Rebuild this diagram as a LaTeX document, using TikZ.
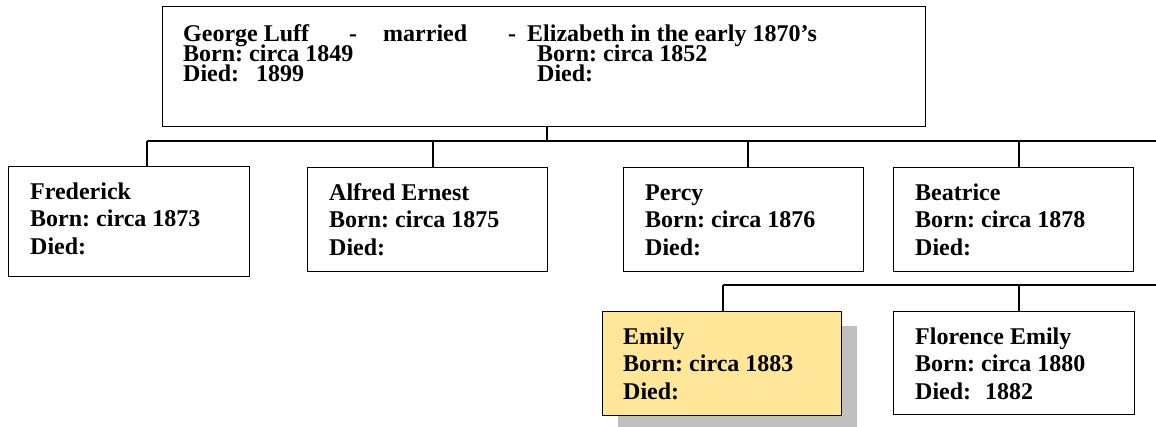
\documentclass[tikz,border=0pt]{standalone}
\usepackage{fontspec}
\setmainfont{Liberation Serif}
\usetikzlibrary{calc,shadows}
\definecolor{emilyfill}{RGB}{255,230,153}
\definecolor{shadowgray}{RGB}{192,192,192}
\newcommand\mystrut{\rule{0pt}{19pt}}
\begin{document}
\frenchspacing
\lineskiplimit=-30pt\relax
\begin{tikzpicture}[x=1pt,y=-1pt,
  box/.style={draw=black, line width=1.4pt, fill=white, anchor=north west, inner sep=0pt},
  txt/.style={anchor=north west, inner sep=0pt, align=left, font=\bfseries\fontsize{24}{27.5}\selectfont},
  toptxt/.style={anchor=north west, inner sep=0pt, align=left, font=\bfseries\fontsize{24}{20.3}\selectfont},
  conn/.style={draw=black, line width=1.3pt}]
\useasboundingbox (0,0) rectangle (1156,426);

% boxes
\node[box, minimum width=763pt, minimum height=120pt] (george) at (162,6) {};
\node[box, minimum width=241pt, minimum height=110pt] (fred) at (8,166) {};
\node[box, minimum width=240pt, minimum height=104pt] (alfred) at (307,167) {};
\node[box, minimum width=240pt, minimum height=104pt] (percy) at (623,167) {};
\node[box, minimum width=240pt, minimum height=104pt] (beatrice) at (893,167) {};
\node[box, fill=emilyfill, minimum width=239pt, minimum height=104pt,
      general shadow={fill=shadowgray, shadow xshift=15.5pt, shadow yshift=-14pt}] (emily) at (602,311) {};
\node[box, minimum width=241pt, minimum height=103pt] (florence) at (893,311) {};

% top box texts
\node[toptxt] (gL) at (183,22) {\mystrut George Luff\\Born: circa 1849\\Died:\hspace{17pt}1899};
\node[toptxt] (d1) at (349,22) {\mystrut -};
\node[toptxt] (mar) at (383,22) {\mystrut married};
\node[toptxt] (d2) at (508,22) {\mystrut -};
\node[toptxt] (eL) at (527,22) {\mystrut Elizabeth in the early 1870’s};
\node[toptxt] (eR) at (537,42) {\mystrut Born: circa 1852\\Died:};

% children texts
\node[txt] (fredT) at (30,180) {\mystrut Frederick\\Born: circa 1873\\Died:};
\node[txt] (alfredT) at (329,181) {\mystrut Alfred Ernest\\Born: circa 1875\\Died:};
\node[txt] (percyT) at (645,181) {\mystrut Percy\\Born: circa 1876\\Died:};
\node[txt] (beatriceT) at (915,181) {\mystrut Beatrice\\Born: circa 1878\\Died:};
\node[txt] (emilyT) at (623,325) {\mystrut Emily\\Born: circa 1883\\Died:};
\node[txt] (florenceT) at (915,325) {\mystrut Florence Emily\\Born: circa 1880\\Died:\hspace{14pt}1882};

% connector points
\coordinate (trunk) at (547,141);
\coordinate (busR) at (1156,141);
\coordinate (dF) at (147,141);
\coordinate (dA) at (433,141);
\coordinate (dP) at (748,141);
\coordinate (dB) at (1019,141);
\coordinate (bus2R) at (1156,285);
\coordinate (dE) at (723,285);
\coordinate (dFl) at (1019,285);

% connectors
\draw[conn] (trunk |- george.south) -- (trunk);
\draw[conn] (dF) -- (busR);
\draw[conn] (dF) -- (dF |- fred.north);
\draw[conn] (dA) -- (dA |- alfred.north);
\draw[conn] (dP) -- (dP |- percy.north);
\draw[conn] (dB) -- (dB |- beatrice.north);
\draw[conn] (dE) -- (bus2R);
\draw[conn] (dE) -- (dE |- emily.north);
\draw[conn] (dFl) -- (dFl |- florence.north);
\end{tikzpicture}
\end{document}
